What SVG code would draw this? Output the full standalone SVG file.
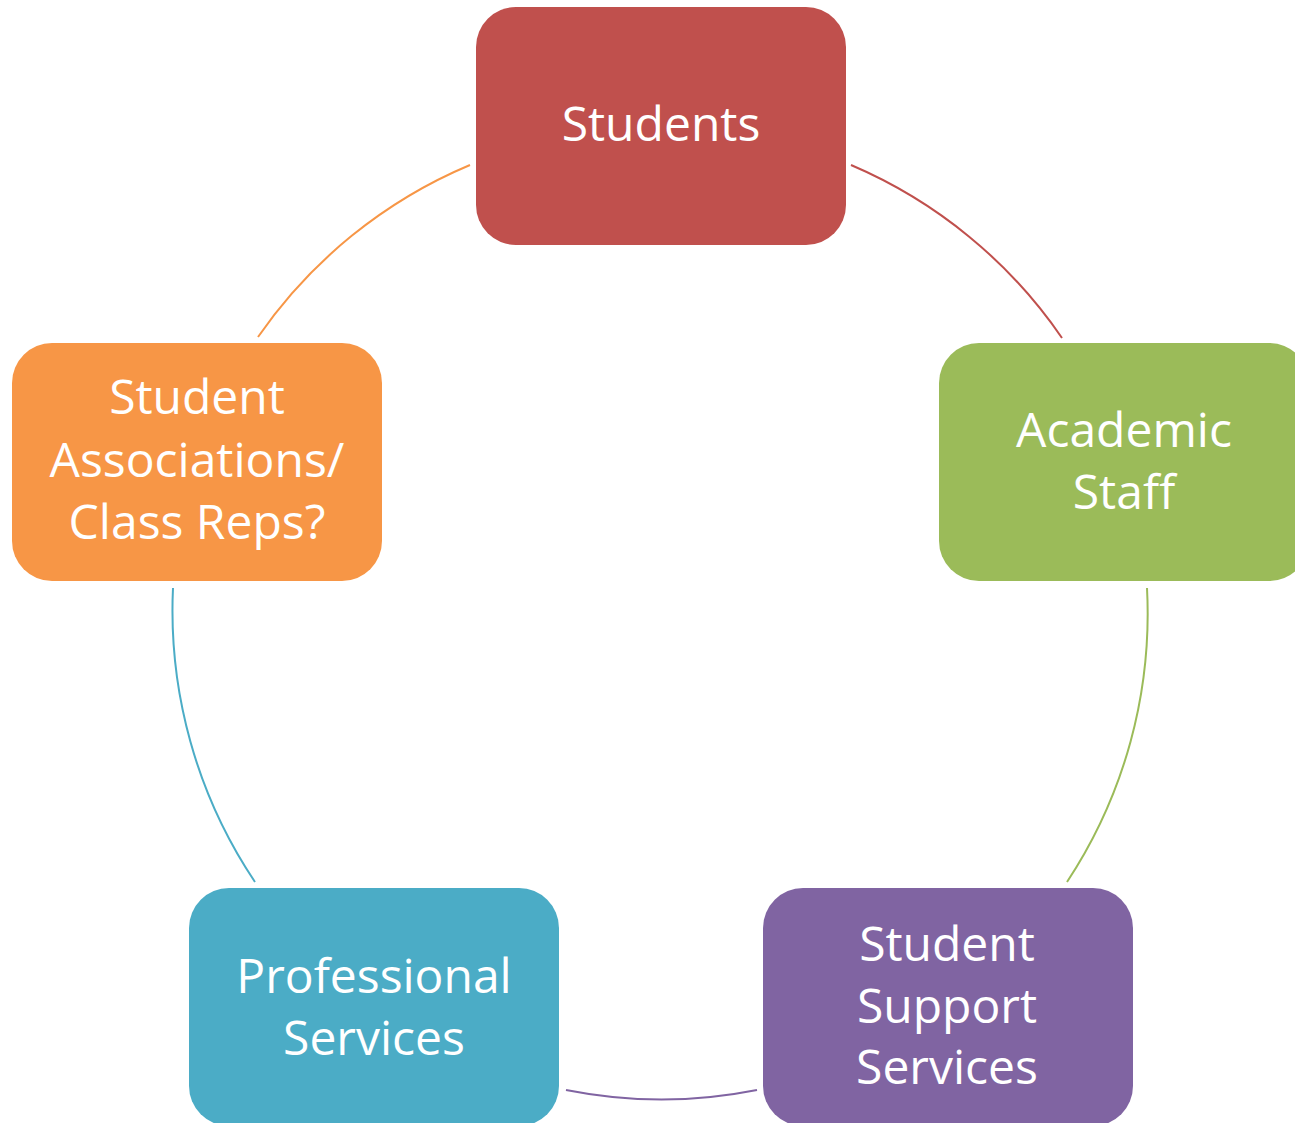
<svg xmlns="http://www.w3.org/2000/svg" width="1295" height="1123" viewBox="0 0 1295 1123">
  <style>
    .box { stroke: none; }
    .label { font-family: "Open Sans", "Liberation Sans", sans-serif; font-size: 48px; fill: #FFFFFF; text-anchor: middle; }
    .arc { fill: none; stroke-width: 2; }
  </style>
  <rect width="1295" height="1123" fill="#FFFFFF"/>

  <!-- cycle connectors: arcs on a circle centred at (660,613), r=487 -->
  <g id="connectors">
    <path class="arc" stroke="#C0504D" d="M851,165 A487,487 0 0 1 1062,338"/>
    <path class="arc" stroke="#9BBB59" d="M1147,588 A487,487 0 0 1 1067,882"/>
    <path class="arc" stroke="#8064A2" d="M757,1090 A487,487 0 0 1 566,1090"/>
    <path class="arc" stroke="#4BACC6" d="M255,882 A487,487 0 0 1 173,588"/>
    <path class="arc" stroke="#F79646" d="M258,337 A487,487 0 0 1 470,165"/>
  </g>

  <g id="students">
    <rect class="box" x="476" y="7" width="370" height="238" rx="40" fill="#C0504D"/>
    <text class="label" x="661" y="141">Students</text>
  </g>

  <g id="academic-staff">
    <rect class="box" x="939" y="343" width="370" height="238" rx="40" fill="#9BBB59"/>
    <text class="label" x="1124" y="447">Academic</text>
    <text class="label" x="1124" y="509">Staff</text>
  </g>

  <g id="student-support-services">
    <rect class="box" x="763" y="888" width="370" height="238" rx="40" fill="#8064A2"/>
    <text class="label" x="947" y="961">Student</text>
    <text class="label" x="947" y="1023">Support</text>
    <text class="label" x="947" y="1084">Services</text>
  </g>

  <g id="professional-services">
    <rect class="box" x="189" y="888" width="370" height="238" rx="40" fill="#4BACC6"/>
    <text class="label" x="374" y="993">Professional</text>
    <text class="label" x="374" y="1055">Services</text>
  </g>

  <g id="student-associations">
    <rect class="box" x="12" y="343" width="370" height="238" rx="40" fill="#F79646"/>
    <text class="label" x="197" y="414">Student</text>
    <text class="label" x="197" y="477">Associations/</text>
    <text class="label" x="197" y="539">Class Reps?</text>
  </g>
</svg>
